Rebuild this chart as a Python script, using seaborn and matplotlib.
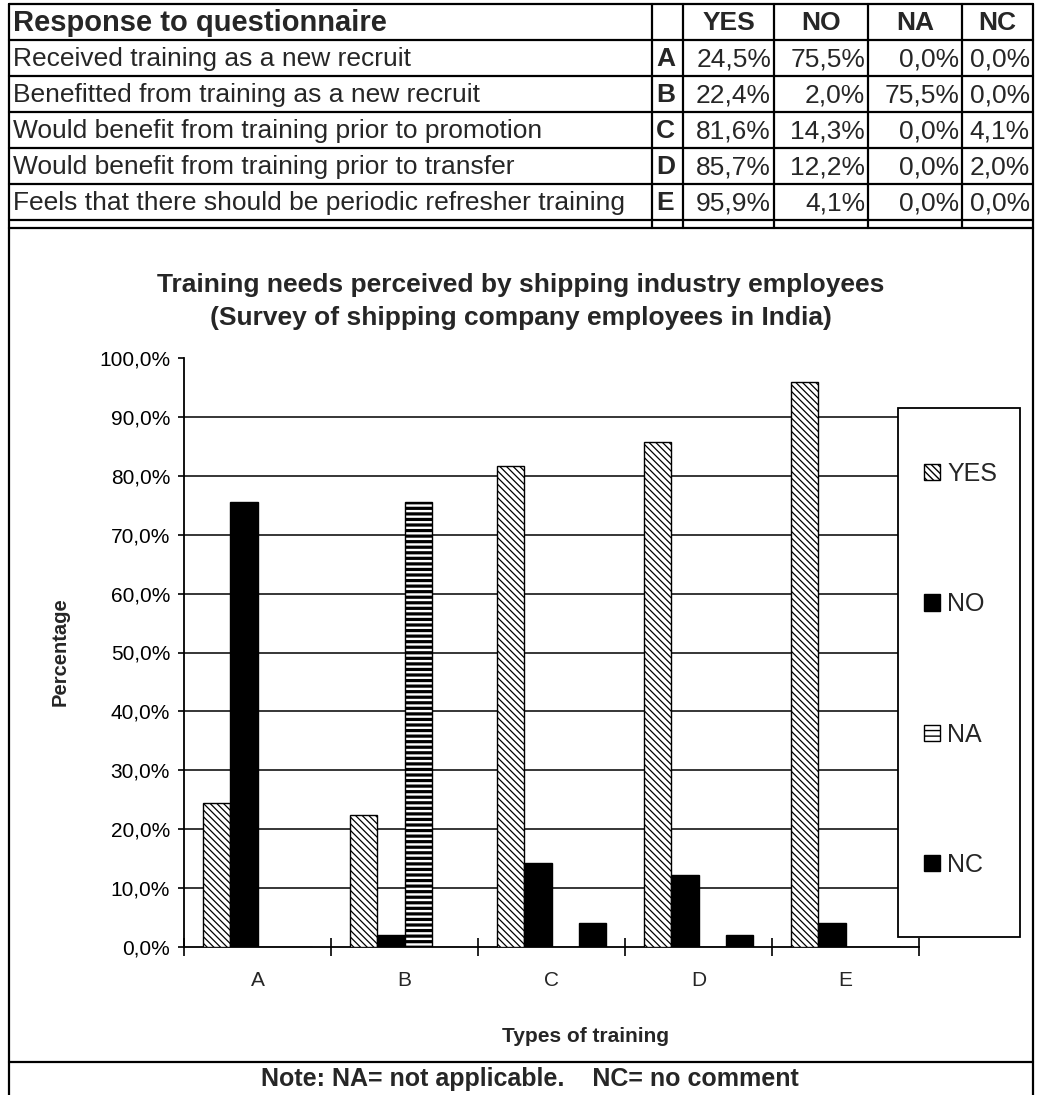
import matplotlib
matplotlib.use("Agg")
import matplotlib.pyplot as plt
import pandas as pd
import seaborn as sns
from matplotlib.lines import Line2D
from matplotlib.patches import Patch, Rectangle
from matplotlib.ticker import FixedLocator

# ---- survey data -------------------------------------------------------
questions = [
    "Received training as a new recruit",
    "Benefitted from training as a new recruit",
    "Would benefit from training prior to promotion",
    "Would benefit from training prior to transfer",
    "Feels that there should be periodic refresher training",
]
codes = ["A", "B", "C", "D", "E"]
responses = ["YES", "NO", "NA", "NC"]
yes_pct = [24.5, 22.4, 81.6, 85.7, 95.9]
no_pct = [75.5, 2.0, 14.3, 12.2, 4.1]
na_pct = [0.0, 75.5, 0.0, 0.0, 0.0]
nc_pct = [0.0, 0.0, 4.1, 2.0, 0.0]
y_ticks = [0, 10, 20, 30, 40, 50, 60, 70, 80, 90, 100]

series = {"YES": yes_pct, "NO": no_pct, "NA": na_pct, "NC": nc_pct}
df = pd.DataFrame(
    [(c, r, series[r][i]) for r in responses for i, c in enumerate(codes)],
    columns=["code", "response", "pct"],
)


def pct_text(v):
    return f"{v:.1f}%".replace(".", ",")


# ---- figure setup ------------------------------------------------------
sns.set_style("white")
plt.rcParams["font.family"] = ["Liberation Sans", "DejaVu Sans"]
plt.rcParams["hatch.linewidth"] = 1.0

W, H = 1039, 1095
fig = plt.figure(figsize=(W / 100, H / 100), dpi=100)
fig.patch.set_facecolor("white")


def fx(x):
    return x / W


def fy(y):
    return 1 - y / H


def hline(x0, x1, y, lw=1.6):
    fig.add_artist(Line2D([fx(x0), fx(x1)], [fy(y), fy(y)],
                          transform=fig.transFigure, color="black", lw=lw))


def vline(x, y0, y1, lw=1.6):
    fig.add_artist(Line2D([fx(x), fx(x)], [fy(y0), fy(y1)],
                          transform=fig.transFigure, color="black", lw=lw))


# ---- data table above the chart ---------------------------------------
col_x = [9, 652, 683, 774, 868, 962, 1033]
row_y = [4, 40, 76, 112, 148, 184, 220]
table_font = 19

for y in row_y:
    hline(col_x[0], col_x[-1], y)
for x in col_x:
    vline(x, row_y[0], 228)

def row_mid(i):
    return (row_y[i] + row_y[i + 1]) / 2 + 1

fig.text(fx(13), fy(row_mid(0)), "Response to questionnaire", fontsize=21,
         fontweight="bold", ha="left", va="center")
for j, r in enumerate(responses):
    fig.text(fx((col_x[j + 2] + col_x[j + 3]) / 2), fy(row_mid(0)), r,
             fontsize=table_font, fontweight="bold", ha="center", va="center")

for i, (q, c) in enumerate(zip(questions, codes)):
    ym = fy(row_mid(i + 1))
    fig.text(fx(13), ym, q, fontsize=table_font, ha="left", va="center")
    fig.text(fx(col_x[1] + 4), ym, c, fontsize=table_font, fontweight="bold",
             ha="left", va="center")
    for j, r in enumerate(responses):
        fig.text(fx(col_x[j + 3] - 3), ym, pct_text(series[r][i]),
                 fontsize=table_font, ha="right", va="center")

# ---- chart frame ------------------------------------------------------
hline(col_x[0], col_x[-1], 228)
hline(col_x[0], col_x[-1], 1062)
vline(col_x[0], 228, 1095)
vline(col_x[-1], 228, 1095)

# ---- bar chart --------------------------------------------------------
ax = fig.add_axes([fx(184), fy(947), 735 / W, 589 / H])
sns.barplot(data=df, x="code", y="pct", hue="response", order=codes,
            hue_order=responses, width=0.735, saturation=1,
            palette=["white", "black", "white", "black"], edgecolor="black",
            linewidth=1.0, legend=False, ax=ax, errorbar=None)

styles = {
    "YES": dict(face="white", hatch="\\\\\\\\\\", hlw=0.9),
    "NO": dict(face="black", hatch=None, hlw=None),
    "NA": dict(face="white", hatch="---", hlw=2.3),
    "NC": dict(face="black", hatch=None, hlw=None),
}
for cont, r in zip(ax.containers, responses):
    st = styles[r]
    for bar in cont:
        bar.set_facecolor(st["face"])
        bar.set_edgecolor("black")
        bar.set_zorder(3)
        if st["hatch"]:
            bar.set_hatch(st["hatch"])
            if hasattr(bar, "set_hatch_linewidth"):
                bar.set_hatch_linewidth(st["hlw"])

ax.set_xlim(-0.5, 4.5)
ax.set_ylim(0, 100)
ax.set_yticks(y_ticks)
ax.set_yticklabels([pct_text(v) for v in y_ticks], fontsize=15)
ax.tick_params(axis="y", direction="out", length=4, width=1.2, pad=6,
               left=True, colors="black")
ax.set_xticks(range(len(codes)))
ax.set_xticklabels(codes, fontsize=15)
ax.tick_params(axis="x", which="major", length=0, pad=17)
ax.xaxis.set_minor_locator(FixedLocator([k - 0.5 for k in range(len(codes) + 1)]))
ax.tick_params(axis="x", which="minor", direction="inout", length=13,
               width=1.2, bottom=True, colors="black")

ax.set_axisbelow(True)
ax.yaxis.grid(True, color="black", lw=1.1)
ax.xaxis.grid(False)
grid = ax.get_ygridlines()
grid[0].set_visible(False)
grid[-1].set_visible(False)

for s in ("top", "right"):
    ax.spines[s].set_visible(False)
for s in ("left", "bottom"):
    ax.spines[s].set_color("black")
    ax.spines[s].set_linewidth(1.3)
ax.set_xlabel("")
ax.set_ylabel("")
ax.patch.set_alpha(0)

# ---- legend box -------------------------------------------------------
fig.add_artist(Rectangle((fx(898), fy(937)), (1020 - 898) / W, (937 - 408) / H,
                         transform=fig.transFigure, facecolor="white",
                         edgecolor="black", lw=1.3, zorder=5))
handles = []
for r in responses:
    st = styles[r]
    handles.append(Patch(facecolor=st["face"], edgecolor="black",
                         hatch=st["hatch"], lw=1.0))
leg = fig.legend(handles, responses, loc="upper left",
                 bbox_to_anchor=(fx(924), fy(462)), frameon=False,
                 fontsize=18, handlelength=0.62, handleheight=0.62,
                 handletextpad=0.3, labelspacing=4.25, borderpad=0,
                 borderaxespad=0)
leg.set_zorder(6)

# ---- titles and notes -------------------------------------------------
fig.text(fx(521), fy(285), "Training needs perceived by shipping industry employees",
         fontsize=19, fontweight="bold", ha="center", va="center")
fig.text(fx(521), fy(318), "(Survey of shipping company employees in India)",
         fontsize=19, fontweight="bold", ha="center", va="center")
fig.text(fx(60), fy(652), "Percentage", rotation=90, fontsize=14.5,
         fontweight="bold", ha="center", va="center")
fig.text(fx(585), fy(1037), "Types of training", fontsize=15,
         fontweight="bold", ha="center", va="center")
fig.text(fx(530), fy(1079), "Note: NA= not applicable.    NC= no comment",
         fontsize=18, fontweight="bold", ha="center", va="center")

fig.savefig("out.png", dpi=100)
